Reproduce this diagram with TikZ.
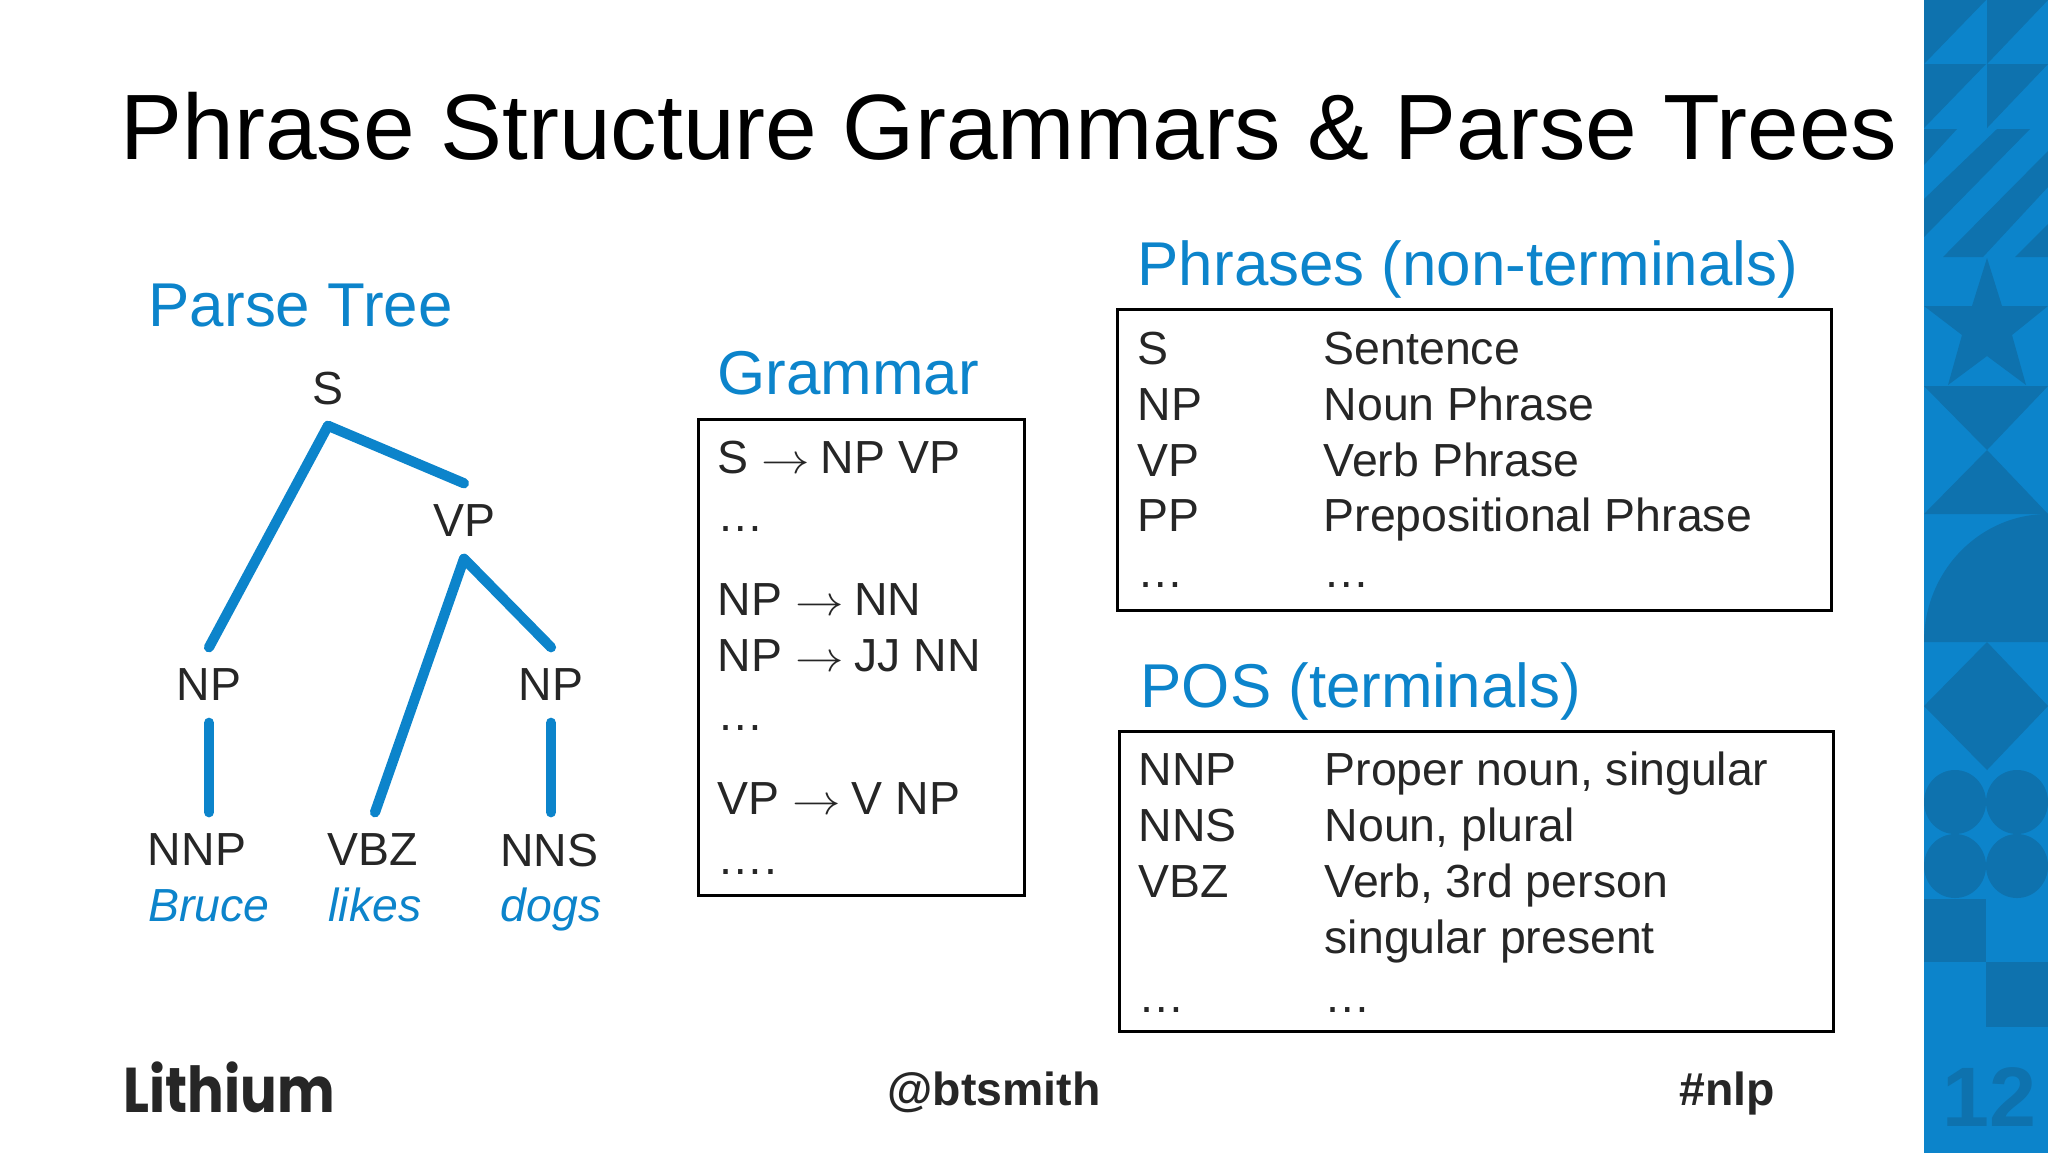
\documentclass[tikz,border=0pt]{standalone}
\usepackage{fontspec}
\setmainfont{Liberation Sans}
\newfontfamily\logofont[FakeStretch=.86]{Poppins}
\usetikzlibrary{positioning}
\definecolor{lithblue}{HTML}{0C84CB}
\definecolor{banddark}{HTML}{0E72AE}
\definecolor{bodygray}{HTML}{262626}
\newcommand{\ruleto}{\scalebox{1.15}[1]{$\rightarrow$}\kern-.6pt}
\tikzset{
  txt/.style={anchor=base west,inner sep=0pt,text=bodygray,font=\fontsize{13.2}{15}\selectfont},
  heading/.style={anchor=base west,inner sep=0pt,text=lithblue,font=\fontsize{17.6}{20}\selectfont},
  treenode/.style={inner sep=0pt,minimum height=.74cm,text=bodygray,font=\fontsize{13.2}{15}\selectfont},
  wordnode/.style={anchor=base,inner sep=0pt,text=lithblue,font=\fontsize{13.2}{15}\selectfont\itshape},
  branch/.style={draw=lithblue,line width=2.9pt,line cap=round},
  framebox/.style={draw=black,line width=.85pt,inner sep=0pt,anchor=north west},
  footer/.style={inner sep=0pt,anchor=base,text=bodygray,font=\fontsize{13.2}{15}\selectfont\bfseries}
}
\begin{document}
\begin{tikzpicture}[x=.01cm,y=-.01cm]
\useasboundingbox (0,0) rectangle (2048,1153);

\fill[lithblue] (1924,0) rectangle (2048,1153);
\begin{scope}
\clip (1924,0) rectangle (2048,1153);
\foreach \yy in {0,64} {
\fill[banddark] (1924,\yy) -- (1986,\yy) -- (1924,\yy+64) -- cycle;
\fill[banddark] (1987,\yy) -- (2048,\yy) -- (1987,\yy+64) -- cycle;
}
\fill[banddark] (1924,129) -- (1957,129) -- (1924,165) -- cycle;
\fill[banddark] (1997,129) -- (2030,129) -- (1924,237) -- (1924,199) -- cycle;
\fill[banddark] (2048,151) -- (2048,187) -- (1983,257) -- (1943,257) -- cycle;
\fill[banddark] (2015,257) -- (2048,257) -- (2048,224) -- cycle;
\fill[banddark] (1987,258) -- (2002,306) -- (2048,306) -- (2012,335) -- (2026,385) -- (1987,356) -- (1948,385) -- (1962,335) -- (1924,306) -- (1972,306) -- cycle;
\fill[banddark] (1924,386) -- (2048,386) -- (1987,450) -- cycle;
\fill[banddark] (1987,450) -- (2048,514) -- (1924,514) -- cycle;
\fill[banddark] (1924,642) arc[start angle=180,end angle=90,x radius=124,y radius=-128] -- (2048,642) -- cycle;
\fill[banddark] (1987,642) -- (2048,706) -- (1987,770) -- (1924,706) -- cycle;
\foreach \xx/\yy in {1955/802,2017/802,1955/866,2017/866} {
\fill[banddark] (\xx,\yy) ellipse[x radius=31,y radius=32];
}
\fill[banddark] (1924,899) rectangle (1986,962);
\fill[banddark] (1986,962) rectangle (2048,1027);
\end{scope}
\node (pagenum) at (1989,1126) [anchor=base,inner sep=0pt,text=banddark,font=\fontsize{24}{28}\selectfont\bfseries] {12};

\node (title) at (120,159) [anchor=base west,inner sep=0pt,text=black,font=\fontsize{26.4}{30}\selectfont] {Phrase Structure Grammars \& Parse Trees};

\node (treehead) at (148,326) [heading] {Parse Tree};
\node (s) at (328,388) [treenode] {S};
\node (vp) at (464,521) [treenode] {VP};
\node (np1) at (209,685) [treenode] {NP};
\node (np2) at (551,685) [treenode] {NP};
\node (nnp) at (197,850) [treenode] {NNP};
\node (vbz) at (373,850) [treenode] {VBZ};
\node (nns) at (549,850) [treenode] {NNS};
\node (bruce) at (209,921) [wordnode] {Bruce};
\node (likes) at (375,921) [wordnode] {likes};
\node (dogs) at (551,921) [wordnode] {dogs};
\draw[branch] (s.south) -- (np1.north);
\draw[branch] (s.south) -- (vp.north);
\draw[branch] (vp.south) -- ([xshift=.02cm]vbz.north);
\draw[branch] (vp.south) -- (np2.north);
\draw[branch] (np1.south) -- (np1.south |- nnp.north);
\draw[branch] (np2.south) -- (np2.south |- nns.north);

\node (gramhead) at (717,394) [heading] {Grammar};
\node (grambox) at (697,418) [framebox,minimum width=3.26cm,minimum height=4.76cm] {};
\foreach \i/\yy/\rule in {1/473/{S \ruleto\ NP VP},2/531/{…},3/615/{NP \ruleto\ NN},4/671/{NP \ruleto\ JJ NN},5/730/{…},6/814/{VP \ruleto\ V NP},7/874/{….}} {
\node (g\i) at (717,\yy) [txt] {\rule};
}

\node (phrhead) at (1137,285) [heading] {Phrases (non-terminals)};
\node (phrbox) at (1116,308) [framebox,minimum width=7.14cm,minimum height=3.01cm] {};
\foreach \i/\yy/\tag/\desc in {1/364/S/Sentence,2/420/NP/Noun Phrase,3/476/VP/Verb Phrase,4/531/PP/Prepositional Phrase,5/587/…/…} {
\node (pt\i) at (1137,\yy) [txt] {\tag};
\node (pd\i) at (1323,\yy) [txt] {\desc};
}

\node (poshead) at (1140,707) [heading] {POS (terminals)};
\node (posbox) at (1118,730) [framebox,minimum width=7.14cm,minimum height=3.0cm] {};
\foreach \i/\yy/\tag/\desc in {1/785/NNP/{Proper noun, singular},2/841/NNS/{Noun, plural},3/897/VBZ/{Verb, 3rd person},5/1012/…/…} {
\node (st\i) at (1138,\yy) [txt] {\tag};
\node (sd\i) at (1324,\yy) [txt] {\desc};
}
\node (sd4) at (1324,953) [txt] {singular present};

\node (logo) at (123,1112) [anchor=base west,inner sep=0pt,text=bodygray,font=\fontsize{18}{20}\logofont\bfseries] {Lithium};
\node (handle) at (994,1105) [footer] {@btsmith};
\node (hashtag) at (1727,1105) [footer] {\#nlp};
\end{tikzpicture}
\end{document}
